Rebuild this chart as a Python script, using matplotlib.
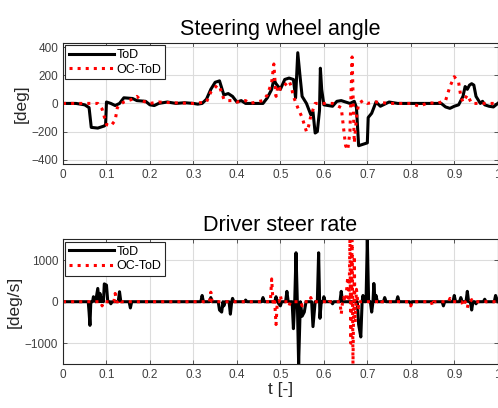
import numpy as np
import matplotlib
matplotlib.use("Agg")
import matplotlib.pyplot as plt

plt.rcParams['font.family'] = ['Liberation Sans', 'DejaVu Sans']

# ---- Steering wheel angle (deg) ----
tod_t = [0.0, 0.03, 0.05, 0.06, 0.065, 0.08, 0.095, 0.098, 0.10, 0.11, 0.12, 0.13, 0.14, 0.16, 0.17,
         0.19, 0.20, 0.21, 0.22, 0.24, 0.26, 0.28, 0.30, 0.31, 0.32, 0.33, 0.34, 0.35, 0.36, 0.365,
         0.37, 0.38, 0.39, 0.40, 0.41, 0.42, 0.44, 0.46, 0.47, 0.48, 0.485, 0.49, 0.50, 0.51, 0.52,
         0.53, 0.535, 0.54, 0.545, 0.55, 0.56, 0.57, 0.575, 0.58, 0.585, 0.59, 0.592, 0.595, 0.60,
         0.61, 0.62, 0.63, 0.64, 0.65, 0.66, 0.67, 0.675, 0.68, 0.69, 0.70, 0.702, 0.71, 0.72, 0.73,
         0.75, 0.77, 0.80, 0.85, 0.87, 0.88, 0.89, 0.90, 0.91, 0.92, 0.925, 0.93, 0.935, 0.94, 0.945,
         0.95, 0.96, 0.965, 0.97, 0.98, 0.99, 1.0]
tod_v = [0, 0, -10, -30, -170, -175, -160, -150, 10, 0, -15, 0, 40, 35, 20,
         15, -10, -15, 0, 10, 0, 5, 0, -5, 0, 30, 100, 150, 160, 110,
         60, 70, 50, 10, 20, 0, 0, 0, 40, 100, 170, 140, 100, 170, 180,
         170, 40, 360, 200, 50, 0, -80, -60, -210, -200, -50, 250, 100, -10,
         -15, -20, 15, 20, 10, 0, 15, -30, -300, -290, -280, -100, -70, 10, -20,
         10, 0, 0, 0, 0, -25, -35, -20, -10, 50, 120, 100, 130, 140, 130,
         50, 0, 15, -10, -20, -25, 0]

oc_t = [0.0, 0.08, 0.09, 0.10, 0.11, 0.12, 0.125, 0.13, 0.14, 0.16, 0.17, 0.18, 0.20, 0.22, 0.25,
        0.30, 0.33, 0.34, 0.355, 0.36, 0.37, 0.38, 0.39, 0.40, 0.42, 0.43, 0.46, 0.47, 0.48, 0.485,
        0.49, 0.495, 0.50, 0.51, 0.52, 0.525, 0.53, 0.54, 0.55, 0.56, 0.565, 0.57, 0.58, 0.62, 0.64,
        0.65, 0.655, 0.66, 0.665, 0.67, 0.675, 0.68, 0.69, 0.70, 0.72, 0.75, 0.80, 0.82, 0.84, 0.86,
        0.88, 0.89, 0.90, 0.91, 0.915, 0.92, 0.93, 0.94, 0.96, 1.0]
oc_v = [0, 0, -40, -150, -160, -120, -30, -10, 10, 30, 50, 20, 0, 10, 5,
        0, 10, 80, 130, 120, 30, 20, 20, 10, 20, 0, 20, 60, 150, 280,
        50, 130, 100, 130, 160, 120, 50, -30, -100, -200, -160, -90, 0, 0, -30,
        -300, -330, -200, 330, -280, -100, 0, 20, 0, 10, 0, 0, -20, 5, 0,
        20, 120, 190, 150, 50, 10, 60, 0, 0, 0]

# ---- Driver steer rate (deg/s) ----
rtod_t = [0.0, 0.058, 0.060, 0.062, 0.064, 0.068, 0.070, 0.075, 0.080, 0.083, 0.085, 0.088, 0.090, 0.093,
          0.095, 0.100, 0.103, 0.108, 0.110, 0.113, 0.127, 0.130, 0.133, 0.152, 0.155, 0.158, 0.317,
          0.320, 0.323, 0.337, 0.340, 0.343, 0.357, 0.360, 0.365, 0.368, 0.370, 0.373, 0.382, 0.385,
          0.388, 0.390, 0.393, 0.418, 0.420, 0.423, 0.457, 0.460, 0.463, 0.487, 0.490, 0.493, 0.500,
          0.503, 0.512, 0.515, 0.518, 0.527, 0.530, 0.533, 0.536, 0.539, 0.542, 0.546, 0.550, 0.555,
          0.559, 0.572, 0.575, 0.580, 0.585, 0.588, 0.591, 0.594, 0.598, 0.600, 0.603, 0.617, 0.620,
          0.623, 0.637, 0.640, 0.643, 0.677, 0.680, 0.685, 0.688, 0.690, 0.693, 0.697, 0.700, 0.703,
          0.707, 0.710, 0.713, 0.715, 0.718, 0.720, 0.723, 0.737, 0.740, 0.743, 0.767, 0.770, 0.773,
          0.797, 0.800, 0.803, 0.872, 0.875, 0.878, 0.897, 0.900, 0.903, 0.912, 0.915, 0.918, 0.927,
          0.930, 0.933, 0.937, 0.940, 0.943, 0.947, 0.950, 0.953, 0.967, 0.970, 0.973, 0.992, 0.995, 1.0]
rtod_v = [0, 0, -250, -570, 0, 0, 120, 0, 320, 0, 200, 0, 100, 0,
          430, 400, 0, 0, -50, 0, 0, 240, 0, 0, -150, 0, 0,
          150, 0, 0, 100, 0, 0, -200, -250, 0, -100, 0, 0, -300,
          0, 80, 0, 0, 40, 0, 0, 100, 0, 0, 120, 0, -100,
          0, 0, 250, 0, 0, -650, 0, 1180, 0, -1500, 0, -350, -250,
          0, 0, -600, 0, 0, 1180, -400, 0, 0, 120, 0, 0, -50,
          0, 0, 250, 0, 0, -550, -850, 0, 150, 0, 0, 1500, 0,
          0, -250, 0, 440, 0, 150, 0, 0, 100, 0, 0, 120, 0,
          0, -50, 0, 0, -100, 0, 0, 150, 0, 0, 100, 0, 0,
          250, 0, 0, -200, 0, 0, -50, 0, 0, 60, 0, 0, 150, 0]

roc_t = [0.0, 0.087, 0.090, 0.093, 0.117, 0.120, 0.123, 0.127, 0.130, 0.133, 0.337, 0.340, 0.343,
         0.477, 0.480, 0.483, 0.485, 0.487, 0.490, 0.493, 0.497, 0.500, 0.503, 0.517, 0.520, 0.523,
         0.547, 0.550, 0.553, 0.567, 0.570, 0.573, 0.607, 0.610, 0.613, 0.637, 0.640, 0.643, 0.645,
         0.650, 0.655, 0.658, 0.660, 0.662, 0.665, 0.667, 0.670, 0.672, 0.675, 0.678, 0.680, 0.683,
         0.727, 0.730, 0.733, 0.797, 0.800, 0.803, 0.847, 0.850, 0.853, 0.887, 0.890, 0.893, 0.917,
         0.920, 0.925, 0.930, 0.933, 0.937, 0.940, 0.943, 1.0]
roc_v = [0, 0, -100, 0, 0, 200, 0, 0, 60, 0, 0, 230, 0,
         0, 550, 0, -100, 0, -550, 0, 0, 150, 0, 0, -100, 0,
         0, -100, 0, 0, 100, 0, 0, -50, 0, 0, -300, 0, 100,
         0, 600, 0, 1500, -1000, 1500, -1500, 1100, -500, 300, 0, -150, 0,
         0, 50, 0, 0, -100, 0, 0, -100, 0, 0, 80, 0, 0,
         -100, 0, -150, 0, 0, 50, 0, 0]

xticks = [0, 0.1, 0.2, 0.3, 0.4, 0.5, 0.6, 0.7, 0.8, 0.9, 1]
xticklabels = ['0', '0.1', '0.2', '0.3', '0.4', '0.5', '0.6', '0.7', '0.8', '0.9', '1']

fig = plt.figure(figsize=(4.98, 4.08), dpi=100)
ax1 = fig.add_axes([0.1265, 0.598, 0.873, 0.297])
ax2 = fig.add_axes([0.1265, 0.108, 0.873, 0.305])

axcol = '#262626'
tickcol = '#404040'
for ax in (ax1, ax2):
    ax.set_xlim(0, 1)
    ax.set_xticks(xticks)
    ax.set_xticklabels(xticklabels)
    ax.grid(True, color='#dcdcdc', linewidth=0.8)
    ax.set_axisbelow(True)
    ax.tick_params(direction='in', length=3, labelsize=8.5, colors=tickcol, width=0.6,
                   top=True, right=True)
    for s in ax.spines.values():
        s.set_color(axcol)
        s.set_linewidth(0.8)

ax1.plot(tod_t, tod_v, color='black', lw=2.2, label='ToD')
ax1.plot(oc_t, oc_v, color='red', lw=2.2, ls=':', label='OC-ToD')
ax1.set_ylim(-430, 430)
ax1.set_yticks([-400, -200, 0, 200, 400])
ax1.set_ylabel('[deg]', fontsize=12.5, color=axcol, labelpad=2)
ax1.set_title('Steering wheel angle', fontsize=15.5, pad=6)
leg1 = ax1.legend(loc='upper left', fontsize=9, handlelength=3.6, borderaxespad=0.2,
                  fancybox=False, edgecolor=axcol, framealpha=1, borderpad=0.3,
                  labelspacing=0.2, handletextpad=0.2)
leg1.get_frame().set_linewidth(0.8)

ax2.plot(rtod_t, rtod_v, color='black', lw=2.2, label='ToD')
ax2.plot(roc_t, roc_v, color='red', lw=2.2, ls=':', label='OC-ToD')
ax2.set_ylim(-1500, 1500)
ax2.set_yticks([-1000, 0, 1000])
ax2.set_ylabel('[deg/s]', fontsize=12.5, color=axcol, labelpad=2)
ax2.set_xlabel('t [-]', fontsize=12.5, color=axcol, labelpad=1)
ax2.set_title('Driver steer rate', fontsize=15.5, pad=6)
leg2 = ax2.legend(loc='upper left', fontsize=9, handlelength=3.6, borderaxespad=0.2,
                  fancybox=False, edgecolor=axcol, framealpha=1, borderpad=0.3,
                  labelspacing=0.2, handletextpad=0.2)
leg2.get_frame().set_linewidth(0.8)

fig.savefig('out.png', dpi=100)
